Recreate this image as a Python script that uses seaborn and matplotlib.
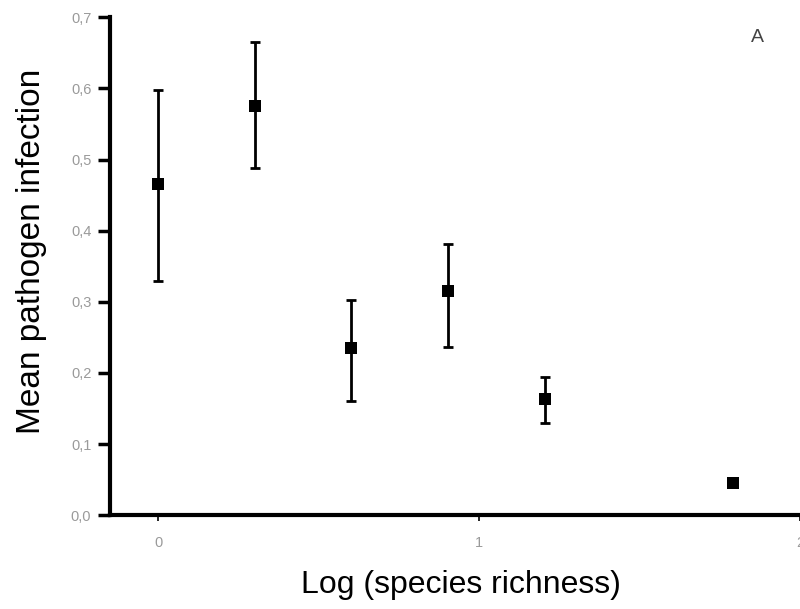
import matplotlib
matplotlib.use("Agg")
import matplotlib.pyplot as plt
import seaborn as sns
import pandas as pd
import numpy as np

# Data
log_richness = [0.0, 0.301, 0.602, 0.903, 1.204, 1.79]
mean_infection = [0.466, 0.575, 0.235, 0.315, 0.164, 0.046]
upper_bound = [0.598, 0.665, 0.303, 0.381, 0.194, 0.050]
lower_bound = [0.330, 0.488, 0.161, 0.236, 0.130, 0.042]

y_ticks = [0.0, 0.1, 0.2, 0.3, 0.4, 0.5, 0.6, 0.7]
y_tick_labels = ["0,0", "0,1", "0,2", "0,3", "0,4", "0,5", "0,6", "0,7"]
x_ticks = [0, 1, 2]
x_tick_labels = ["0", "1", "2"]

df = pd.DataFrame({"x": log_richness, "y": mean_infection,
                   "hi": upper_bound, "lo": lower_bound})

sns.set_style("white")
plt.rcParams["font.family"] = ["Liberation Sans", "DejaVu Sans"]

fig = plt.figure(figsize=(8, 6.09), dpi=100)
ax = fig.add_axes([0.1375, 0.1539, 0.8625, 0.8177])

yerr = np.vstack([df["y"] - df["lo"], df["hi"] - df["y"]])
ax.errorbar(df["x"], df["y"], yerr=yerr, fmt="none", ecolor="black",
            elinewidth=2, capsize=3.8, capthick=2, zorder=2)
sns.scatterplot(data=df, x="x", y="y", marker="s", s=75, color="black",
                edgecolor="black", linewidth=0, ax=ax, zorder=3)

ax.set_xlim(-0.15, 2.0)
ax.set_ylim(0, 0.7)
ax.set_yticks(y_ticks)
ax.set_yticklabels(y_tick_labels)
ax.set_xticks(x_ticks)
ax.set_xticklabels(x_tick_labels)

for side in ["top", "right"]:
    ax.spines[side].set_visible(False)
for side in ["left", "bottom"]:
    ax.spines[side].set_linewidth(3)
    ax.spines[side].set_color("black")

ax.tick_params(axis="y", direction="out", length=8.5, width=2.5,
               color="black", labelsize=10.5, labelcolor="#9a9a9a", pad=5, left=True)
ax.tick_params(axis="x", direction="out", length=4, width=1.2,
               color="black", labelsize=10.5, labelcolor="#9a9a9a", pad=11, bottom=True)

ax.set_xlabel("Log (species richness)", fontsize=23, color="black")
ax.set_ylabel("Mean pathogen infection", fontsize=24, color="black")
ax.xaxis.set_label_coords(0.509, -0.11)
ax.yaxis.set_label_coords(-0.092, 0.53)

fig.text(757 / 800, 1 - 37 / 609, "A", fontsize=14, color="#444444",
         ha="center", va="center")

fig.savefig("out.png", dpi=100)
